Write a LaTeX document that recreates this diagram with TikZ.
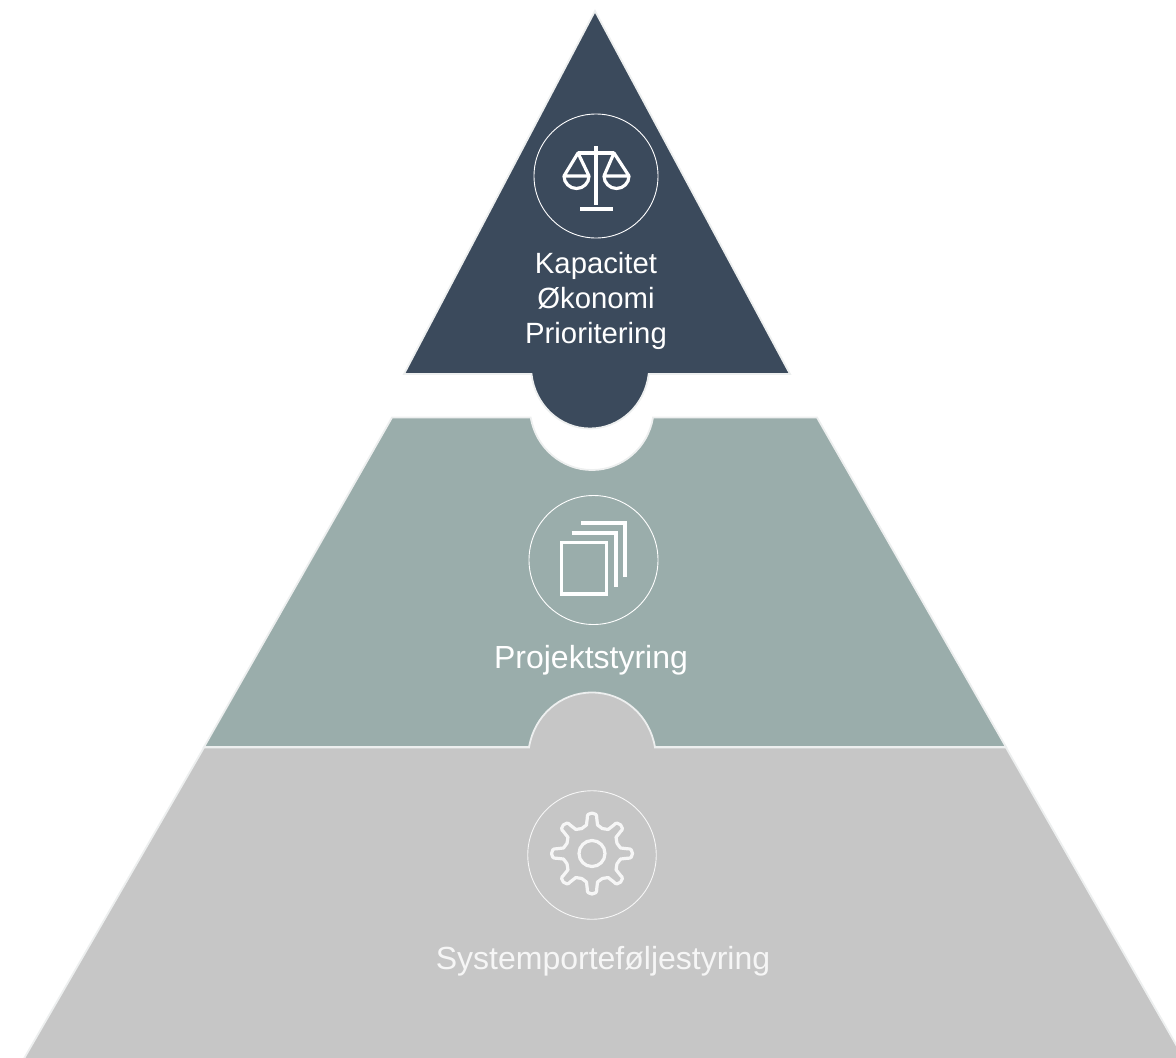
\documentclass[tikz,border=0pt]{standalone}
\usepackage{fontspec}
\setmainfont{Liberation Sans}
\definecolor{darklevel}{HTML}{3B4A5C}
\definecolor{midlevel}{HTML}{9AADAB}
\definecolor{lowlevel}{HTML}{C6C6C6}
\definecolor{edgeline}{HTML}{EDEFEF}
\definecolor{softwhite}{HTML}{F6F6F6}
\tikzset{
  level/.style={draw=edgeline,line width=1.8pt,line join=miter},
  badge/.style={circle,draw=white,line width=0.9pt,minimum size=#1,inner sep=0pt},
  icon/.style={draw=white,line width=3.2pt,line join=miter},
  small label/.style={text=white,font=\fontsize{29.3}{35}\selectfont,align=center,anchor=base},
  big label/.style={text=white,font=\fontsize{32}{38}\selectfont,align=center,anchor=base}
}
\begin{document}
\begin{tikzpicture}[x=1pt,y=-1pt]
\useasboundingbox (0,0) rectangle (1176,1058);
\begin{scope}
\clip (0,0) rectangle (1176,1058);
% top level
\path[level,fill=darklevel] (595,11) -- (790,374) -- (648.7,374)
  .. controls (645,405) and (620,428.5) .. (590,428.5)
  .. controls (560,428.5) and (535,405) .. (531.5,374)
  -- (404,374) -- cycle;
% middle level
\path[level,fill=midlevel] (392,417.5) -- (530.7,417.5)
  .. controls (536,448) and (562,470) .. (592,470)
  .. controls (622,470) and (648,448) .. (653,417.5)
  -- (817,417.5) -- (1006,747) -- (204,747) -- cycle;
% bottom level
\path[level,fill=lowlevel] (204,747.5) -- (529,747.5)
  .. controls (534,716) and (560,692.5) .. (592,692.5)
  .. controls (624,692.5) and (650,716) .. (655,747.5)
  -- (1006,747.5) -- (1186,1062) -- (22,1062) -- cycle;
\end{scope}
% badges
\node[badge=124pt] (b1) at (596,176) {};
\node[badge=129pt] (b2) at (593.5,560) {};
\node[badge=128.5pt,draw=softwhite] (b3) at (592,855) {};
% scales
\draw[draw=white,line width=4pt] (596,146) -- (596,205);
\draw[draw=white,line width=4pt] (580,209) -- (613,209);
\draw[icon] (578,153) -- (614,153);
\draw[icon,line join=round] (578,153) -- (564,176) -- (589,176) -- cycle;
\draw[icon,line join=round] (614,153) -- (604,176) -- (629,176) -- cycle;
\draw[icon] (564,176) arc[start angle=180,end angle=360,x radius=12.5,y radius=-12.5];
\draw[icon] (604,176) arc[start angle=180,end angle=360,x radius=12.5,y radius=-12.5];
% papers
\draw[icon] (561.5,542.5) rectangle (606.5,594);
\draw[icon] (571.5,533) -- (616,533) -- (616,587);
\draw[icon] (581,523) -- (625,523) -- (625,577);
% gear
\begin{scope}[shift={(592,853.5)}]
\draw[icon,line join=round,draw=softwhite]
  (-22.5:27)
  \foreach \a in {0,45,...,315}{
    -- ({\a-11}:29) -- ({\a-7.5}:36) .. controls ({\a-8}:42.5) and ({\a+8}:42.5) .. ({\a+7.5}:36) -- ({\a+11}:29) -- ({\a+22.5}:27)
  } -- cycle;
\draw[icon,draw=softwhite] (0,0) circle[radius=13];
\end{scope}
% labels
\node[small label] (t1) at (596,273.5) {Kapacitet};
\node[small label] (t2) at (596,308.5) {Økonomi};
\node[small label] (t3) at (596,343) {Prioritering};
\node[big label] (t4) at (591,668) {Projektstyring};
\node[big label,text=softwhite] (t5) at (603,969) {Systemporteføljestyring};
\end{tikzpicture}
\end{document}
